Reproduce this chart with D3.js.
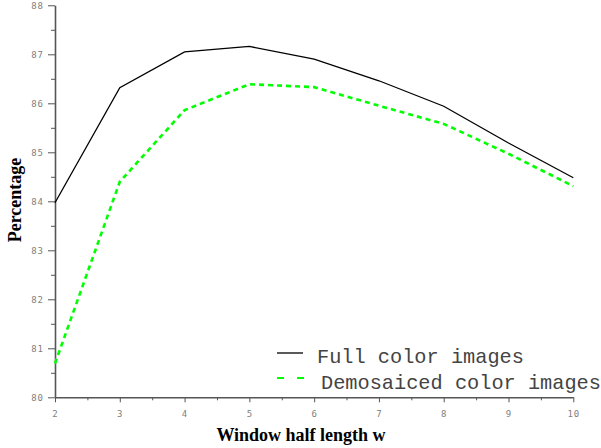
<!DOCTYPE html>
<html>
<head>
<meta charset="utf-8">
<script src="https://cdn.jsdelivr.net/npm/d3@7"></script>
<style>
  body { margin: 0; background: #fff; }
  svg { display: block; }
  .tick text { font-family: "DejaVu Sans Mono", monospace; font-size: 9px; fill: #808080; letter-spacing: 1px; }
  .domain, .tick line { stroke: #555; }
</style>
</head>
<body>
<div id="chart"></div>
<script>
// window half length w
const wValues = [2, 3, 4, 5, 6, 7, 8, 9, 10];
// percentage, full colour images
const fullColor = [83.97, 86.32, 87.05, 87.16, 86.9, 86.46, 85.94, 85.19, 84.48];
// percentage, demosaiced colour images
const demosaiced = [80.69, 84.4, 85.86, 86.39, 86.33, 85.95, 85.58, 84.97, 84.31];

const xTicks = [2, 3, 4, 5, 6, 7, 8, 9, 10];
const yTicks = [80, 81, 82, 83, 84, 85, 86, 87, 88];
const legendLabels = ['Full color images', 'Demosaiced color images'];

const width = 601, height = 448;
const svg = d3.select('#chart').append('svg')
  .attr('width', width).attr('height', height);

// Achsen-Skalen
const x = d3.scaleLinear().domain([2, 10]).range([55, 573.3]);
const y = d3.scaleLinear().domain([80, 88]).range([397.3, 5.3]);

// minor ticks at the halves
const xMinor = d3.range(2.5, 10, 1);
const yMinor = d3.range(80.5, 88, 1);

svg.append('g')
  .attr('transform', `translate(0,${y(80)})`)
  .call(d3.axisBottom(x).tickValues(xMinor).tickSize(3).tickFormat(''))
  .call(g => g.select('.domain').remove());

svg.append('g')
  .attr('transform', `translate(${x(2)},0)`)
  .call(d3.axisLeft(y).tickValues(yMinor).tickSize(4).tickFormat(''))
  .call(g => g.select('.domain').remove());

const xAxis = svg.append('g')
  .attr('transform', `translate(0,${y(80)})`)
  .call(d3.axisBottom(x).tickValues(xTicks).tickSize(5).tickSizeOuter(0).tickPadding(8).tickFormat(d3.format('d')));
xAxis.select('.domain').attr('stroke-width', 1.6);

const yAxis = svg.append('g')
  .attr('transform', `translate(${x(2)},0)`)
  .call(d3.axisLeft(y).tickValues(yTicks).tickSize(7).tickSizeOuter(0).tickPadding(4).tickFormat(d3.format('d')));
yAxis.select('.domain').attr('stroke-width', 1.6);
yAxis.selectAll('.tick text').attr('dy', '0.4em');

// Kurven
const line = d3.line().x((d, i) => x(wValues[i])).y(d => y(d));

svg.append('path')
  .datum(fullColor)
  .attr('fill', 'none')
  .attr('stroke', '#000')
  .attr('stroke-width', 1.3)
  .attr('d', line);

svg.append('path')
  .datum(demosaiced)
  .attr('fill', 'none')
  .attr('stroke', '#00ff00')
  .attr('stroke-width', 2.6)
  .attr('stroke-dasharray', '5,4')
  .attr('d', line);

// Legende
const legend = svg.append('g');
legend.append('line')
  .attr('x1', 277).attr('x2', 303).attr('y1', 353).attr('y2', 353)
  .attr('stroke', '#000').attr('stroke-width', 1.3);
legend.append('line')
  .attr('x1', 277).attr('x2', 304).attr('y1', 378).attr('y2', 378)
  .attr('stroke', '#00ff00').attr('stroke-width', 2.2)
  .attr('stroke-dasharray', '7,13');
legend.selectAll('text')
  .data(legendLabels)
  .join('text')
  .attr('x', (d, i) => i === 0 ? 317 : 321)
  .attr('y', (d, i) => i === 0 ? 363 : 389)
  .attr('font-family', '"Liberation Mono", "Courier New", monospace')
  .attr('font-size', 20.3)
  .attr('fill', '#444')
  .text(d => d);

// Achsentitel
svg.append('text')
  .attr('x', 301).attr('y', 441)
  .attr('text-anchor', 'middle')
  .attr('font-family', '"Liberation Serif", "Times New Roman", serif')
  .attr('font-weight', 'bold')
  .attr('font-size', 18)
  .text('Window half length w');

svg.append('text')
  .attr('transform', 'translate(21,200) rotate(-90)')
  .attr('text-anchor', 'middle')
  .attr('font-family', '"Liberation Serif", "Times New Roman", serif')
  .attr('font-weight', 'bold')
  .attr('font-size', 18)
  .text('Percentage');
</script>
</body>
</html>
